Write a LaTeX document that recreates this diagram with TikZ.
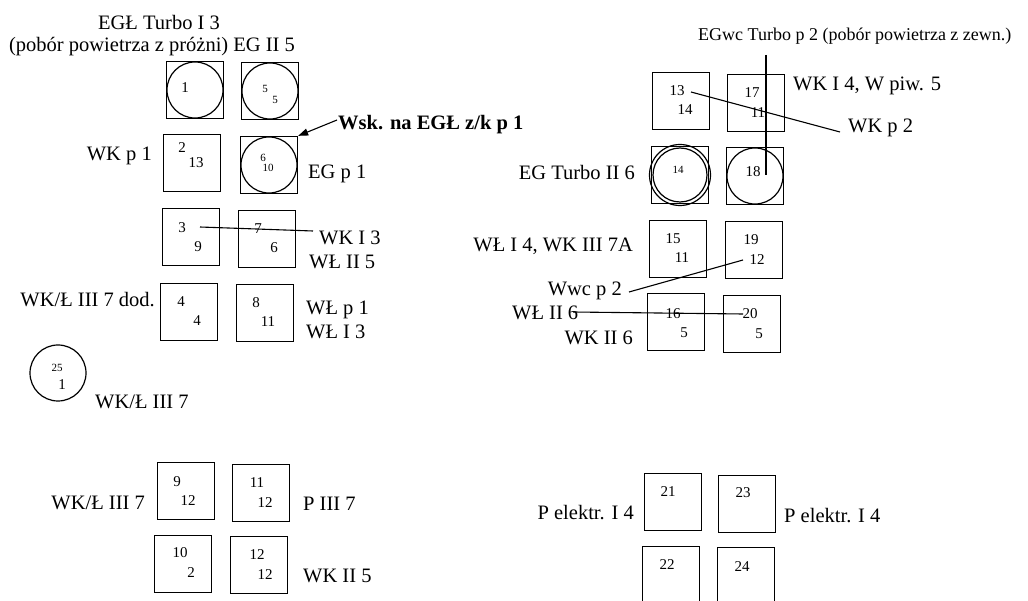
\documentclass[tikz,border=0pt]{standalone}
\usepackage{fontspec}
\setmainfont{Liberation Serif}
\usepackage{tikz}
\usetikzlibrary{arrows.meta}

\begin{document}
\begin{tikzpicture}[x=1pt, y=-1pt, >=Stealth,
    cell/.style={draw, line width=1.3pt, minimum size=57pt, inner sep=0pt},
    num/.style={inner sep=0pt, font=\fontsize{15}{15}\selectfont},
    small/.style={inner sep=0pt, font=\fontsize{11}{11}\selectfont},
    lbl/.style={inner sep=0pt, font=\fontsize{20.5}{22}\selectfont},
    wire/.style={line width=1.1pt}]
  \useasboundingbox (0,0) rectangle (1028,601);

  % Cells
  \foreach \n/\x/\y in {1/195/90, 5/270/91, 2/192/163, 6/269/165, 3/191/237, 7/267/239,
      4/189/312, 8/265/313, 9/186/491, 11/261/493, 10/183/564, 12/259/565,
      13/681/101, 17/756/103, 14/680/175, 18/755/176, 15/678/249, 19/754/250,
      16/676/322, 20/752/324, 21/673/502, 23/747/504, 22/671/575, 24/746/576} {
    \node[cell] (b\n) at (\x,\y) {};
  }

  % Circles in cells
  \foreach \n in {1,5,6,18} {
    \draw[line width=1.2pt] (b\n) circle (28pt);
  }
  \draw[line width=1.2pt] (b14) circle (30.5pt) (b14) circle (27pt);
  \node[draw, circle, line width=1.2pt, minimum size=56pt] (c25) at (58,373) {};

  % Numbers
  \foreach \x/\y/\t [count=\i] in {185/88/1, 182/148/2, 196/163/13, 182/228/3, 198/247/9,
      258/229/7, 274/248/6, 181/302/4, 197/321/4, 256/303/8, 268/322/11, 62/385/1,
      177/482/9, 188/501/12, 257/483/11, 265/503/12, 180/553/10, 191/573/2,
      257/555/12, 265/575/12, 677/91/13, 685/110/14, 752/93/17, 758/113/11,
      753/172/18, 673/239/15, 682/258/11, 751/240/19, 757/260/12, 673/314/16,
      684/333/5, 750/314/20, 759/334/5, 668/492/21, 743/493/23, 667/565/22, 742/567/24} {
    \node[num] (n\i) at (\x,\y) {\t};
  }
  \foreach \x/\y/\t [count=\i] in {265/89/5, 275/100/5, 263/158/6, 268/168/10,
      57/368/25, 678/170/14} {
    \node[small] (s\i) at (\x,\y) {\t};
  }

  % Labels, left half
  \node[lbl, anchor=base] (lTop) at (159,30) {EGŁ Turbo I 3};
  \node[lbl, anchor=base] (lTopB) at (152,52) {(pobór powietrza z próżni) EG II 5};
  \node[lbl, anchor=base east] (lWKp1) at (152,161) {WK p 1};
  \node[lbl, anchor=base west] (lEGp1) at (308,179) {EG p 1};
  \node[lbl, anchor=base west, font=\fontsize{20.5}{22}\selectfont\bfseries] (lWsk) at (338,130) {Wsk. na EGŁ z/k p 1};
  \node[lbl, anchor=base west] (lWKI3) at (319,245) {WK I 3};
  \node[lbl, anchor=base west] (lWLII5) at (309,269) {WŁ II 5};
  \node[lbl, anchor=base east] (lDod) at (155,307) {WK/Ł III 7 dod.};
  \node[lbl, anchor=base west] (lWLp1) at (306,315) {WŁ p 1};
  \node[lbl, anchor=base west] (lWLI3) at (306,339) {WŁ I 3};
  \node[lbl, anchor=base west] (lC25) at (95,409) {WK/Ł III 7};
  \node[lbl, anchor=base east] (lB9) at (145,509) {WK/Ł III 7};
  \node[lbl, anchor=base west] (lPIII7) at (303,510) {P III 7};
  \node[lbl, anchor=base west] (lWKII5) at (303,582) {WK II 5};

  % Labels, right half
  \node[lbl, anchor=base west, font=\fontsize{18}{20}\selectfont] (lEGwc) at (698,41) {EGwc Turbo p 2 (pobór powietrza z zewn.)};
  \node[lbl, anchor=base west] (lWKI4) at (793,91) {WK I 4, W piw. 5};
  \node[lbl, anchor=base west] (lWKp2) at (848,133) {WK p 2};
  \node[lbl, anchor=base east] (lEGT) at (635,180) {EG Turbo II 6};
  \node[lbl, anchor=base east] (lWLI4) at (633,252) {WŁ I 4, WK III 7A};
  \node[lbl, anchor=base east] (lWwc) at (622,296) {Wwc p 2};
  \node[lbl, anchor=base west] (lWLII6) at (512,320) {WŁ II 6};
  \node[lbl, anchor=base east] (lWKII6) at (633,345) {WK II 6};
  \node[lbl, anchor=base east] (lPel) at (634,519) {P elektr. I 4};
  \node[lbl, anchor=base west] (lPer) at (784,522) {P elektr. I 4};

  % Leader lines
  \coordinate (p3) at (200,227);
  \coordinate (q3) at (313,231);
  \draw[wire] (p3) -- (q3);
  \coordinate (p13) at (691,92);
  \coordinate (q13) at (840,132);
  \draw[wire] (p13) -- (q13);
  \coordinate (pEG) at (766,55);
  \coordinate (qEG) at (766,175);
  \draw[wire] (pEG) -- (qEG);
  \coordinate (pWwc) at (629,292);
  \coordinate (qWwc) at (743,260);
  \draw[wire] (pWwc) -- (qWwc);
  \coordinate (pWL) at (573,312);
  \coordinate (qWL) at (743,314);
  \draw[wire] (pWL) -- (qWL);

  % Pointer
  \coordinate (pWsk) at (337,120);
  \draw[wire, -{Triangle[length=10pt, width=7pt]}] (pWsk) -- (b6.north east);
\end{tikzpicture}
\end{document}
